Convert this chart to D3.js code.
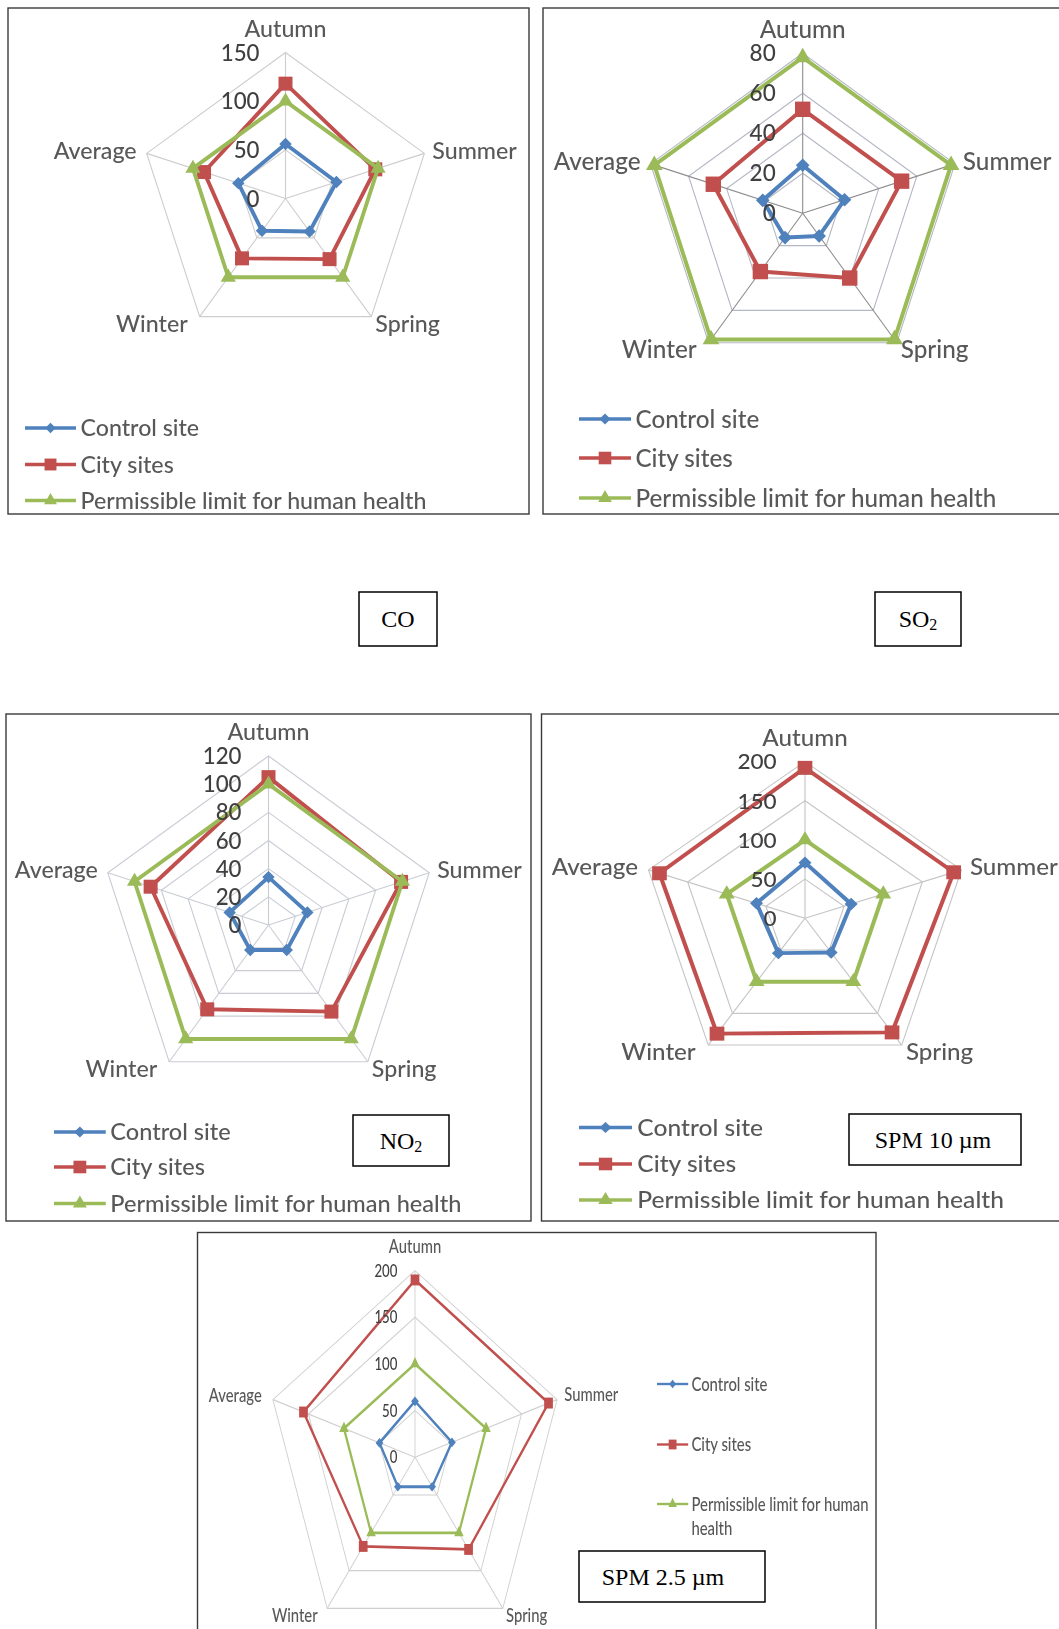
<!DOCTYPE html>
<html>
<head>
<meta charset="utf-8">
<script src="https://cdn.jsdelivr.net/npm/d3@7"></script>
<style>
  html, body { margin: 0; padding: 0; background: #fff; }
  svg { display: block; }
</style>
</head>
<body>
<svg id="fig" width="1059" height="1629"></svg>
<script>
// ---- Data -------------------------------------------------------------
// Radar axes, clockwise from the top
const seasons = ["Autumn", "Summer", "Spring", "Winter", "Average"];
const seriesNames = ["Control site", "City sites", "Permissible limit for human health"];

// CO
const coTicks = [0, 50, 100, 150];
const coControl = [56, 55, 42, 41, 51];
const coCity = [118, 97, 77, 76, 88];
const coLimit = [100, 100, 100, 100, 100];

// SO2
const so2Ticks = [0, 20, 40, 60, 80];
const so2Control = [24, 22, 14, 15, 21];
const so2City = [52, 52, 40, 36, 47];
const so2Limit = [78, 78, 78, 78, 78];

// NO2
const no2Ticks = [0, 20, 40, 60, 80, 100, 120];
const no2Control = [34, 29, 22, 22, 29];
const no2City = [105, 99, 76, 74, 88];
const no2Limit = [100, 100, 100, 100, 100];

// SPM 10 um
const spm10Ticks = [0, 50, 100, 150, 200];
const spm10Control = [71, 59, 54, 55, 62];
const spm10City = [192, 190, 180, 182, 186];
const spm10Limit = [100, 100, 100, 100, 100];

// SPM 2.5 um
const spm25Ticks = [0, 50, 100, 150, 200];
const spm25Control = [60, 52, 39, 39, 50];
const spm25City = [190, 188, 122, 118, 157];
const spm25Limit = [100, 100, 100, 100, 100];

// ---- Layout -----------------------------------------------------------
// Label placement around each vertex (px, before the panel's x scaling)
const placeDefault = [
  { dx: 0, dy: -24, anchor: "middle" },
  { dx: 8, dy: -3, anchor: "start" },
  { dx: 4, dy: 7, anchor: "start" },
  { dx: -12, dy: 7, anchor: "end" },
  { dx: -10, dy: -3, anchor: "end" }
];
const placeSmall = [
  { dx: 0, dy: -24, anchor: "middle" },
  { dx: 9, dy: -5, anchor: "start" },
  { dx: 4, dy: 7, anchor: "start" },
  { dx: -12, dy: 7, anchor: "end" },
  { dx: -14, dy: -4, anchor: "end" }
];

const panels = [
  { // CO
    frame: [8, 8, 521, 506],
    cx: 285.5, cy: 198.5, R: 146, sx: 1.0,
    ticks: coTicks, values: [coControl, coCity, coLimit],
    font: 23.2, tickFont: 22.3, tickDx: 26, lw: 3.9, mk: 1, place: placeDefault,
    grid: "#cdcdcd", spoke: "#cdcdcd",
    legend: { x: 25, rows: [428, 464.5, 500.5], len: 51, gap: 4.5, font: 23.2, sx: 1.0, mk: 0.85 },
    title: { box: [359, 592, 78, 54], parts: [["CO", false]], tx: 398 }
  },
  { // SO2
    frame: [543, 8, 530, 506],
    cx: 802.7, cy: 213.3, R: 160, sx: 1.0,
    ticks: so2Ticks, values: [so2Control, so2City, so2Limit],
    font: 24.3, tickFont: 22.5, tickDx: 27, lw: 4, mk: 1.1, place: placeDefault,
    grid: "#b4b8c4", spoke: "#8c8c8c",
    legend: { x: 579, rows: [419, 458, 498], len: 52, gap: 4.5, font: 24.2, sx: 1.0, mk: 0.9 },
    title: { box: [875, 592, 86, 54], parts: [["SO", false], ["2", true]], tx: 918 }
  },
  { // NO2
    frame: [6, 714, 525, 507],
    cx: 268.5, cy: 925, R: 169, sx: 1.0,
    ticks: no2Ticks, values: [no2Control, no2City, no2Limit],
    font: 23.2, tickFont: 22.3, tickDx: 27, lw: 3.9, mk: 1, place: placeDefault,
    grid: "#c9ccd4", spoke: "#c9ccd4",
    legend: { x: 54, rows: [1132, 1167, 1203.5], len: 51, gap: 4.5, font: 23.2, sx: 1.015, mk: 0.9 },
    title: { box: [353, 1115, 96, 51], parts: [["NO", false], ["2", true]], tx: 401 }
  },
  { // SPM 10
    frame: [541.5, 714, 530, 507],
    cx: 805, cy: 918.3, R: 156.7, sx: 1.05,
    ticks: spm10Ticks, values: [spm10Control, spm10City, spm10Limit],
    font: 23, tickFont: 21.5, tickDx: 27, lw: 3.9, mk: 1, place: placeDefault,
    grid: "#c6c6c6", spoke: "#c6c6c6",
    legend: { x: 579, rows: [1127.5, 1164, 1200], len: 50, gap: 5, font: 23.2, sx: 1.06, mk: 0.9 },
    title: { box: [849, 1114, 172, 51], parts: [["SPM 10 \u00b5m", false]], tx: 933 }
  },
  { // SPM 2.5
    frame: [197.5, 1232.5, 678.5, 420],
    cx: 415, cy: 1457.3, R: 186.7, sx: 0.8,
    ticks: spm25Ticks, values: [spm25Control, spm25City, spm25Limit],
    font: 18.5, tickFont: 16.5, tickDx: 22, lw: 2.8, mk: 0.78, place: placeSmall,
    grid: "#cfcfcf", spoke: "#cfcfcf",
    legend: { x: 657, rows: [1384, 1444.5, 1504], len: 39, gap: 4, font: 18.6, sx: 0.8, mk: 0.7, wrapAt: 3, lineGap: 24 },
    title: { box: [579, 1551, 186, 51], parts: [["SPM 2.5 \u00b5m", false]], tx: 663 }
  }
];

const colors = ["#4F81BD", "#C0504D", "#9BBB59"];
const shapes = ["diamond", "square", "triangle"];
const labelFont = "Lato, 'Open Sans', 'DejaVu Sans', sans-serif";
const serifFont = "'Liberation Serif', 'DejaVu Serif', serif";

// ---- Drawing ----------------------------------------------------------
const svg = d3.select("#fig");
svg.append("rect").attr("width", 1059).attr("height", 1629).attr("fill", "#fff");

const defs = svg.append("defs");
defs.append("filter").attr("id", "soft")
  .attr("x", "-5%").attr("y", "-5%").attr("width", "110%").attr("height", "110%")
  .append("feGaussianBlur").attr("stdDeviation", 0.55);

function markerPath(shape, s) {
  if (shape === "diamond") return `M0,${-s}L${s},0L0,${s}L${-s},0Z`;
  if (shape === "square") return `M${-s},${-s}H${s}V${s}H${-s}Z`;
  const h = s * Math.sqrt(3);
  return `M0,${-2 * h / 3}L${s},${h / 3}L${-s},${h / 3}Z`;
}
const markerBase = [6.2, 7, 7.6];

const angle = d3.scalePoint().domain(seasons).range([0, 2 * Math.PI * 4 / 5]);

panels.forEach(p => {
  // panel frame
  svg.append("rect")
    .attr("x", p.frame[0]).attr("y", p.frame[1])
    .attr("width", p.frame[2]).attr("height", p.frame[3])
    .attr("fill", "none").attr("stroke", "#3a3a3a").attr("stroke-width", 1.4);

  const soft = svg.append("g").attr("filter", "url(#soft)");
  const chart = soft.append("g")
    .attr("transform", `translate(${p.cx},${p.cy}) scale(${p.sx},1)`);

  const maxV = d3.max(p.ticks);
  const r = d3.scaleLinear().domain([0, maxV]).range([0, p.R]);

  // concentric gridlines
  const ringLine = d3.lineRadial().curve(d3.curveLinearClosed)
    .angle(s => angle(s));
  p.ticks.filter(t => t > 0).forEach(t => {
    chart.append("path")
      .attr("d", ringLine.radius(r(t))(seasons))
      .attr("fill", "none").attr("stroke", p.grid).attr("stroke-width", 1.1);
  });
  // spokes
  seasons.forEach(s => {
    const [x, y] = d3.pointRadial(angle(s), r(maxV));
    chart.append("line").attr("x1", 0).attr("y1", 0).attr("x2", x).attr("y2", y)
      .attr("stroke", p.spoke).attr("stroke-width", 1.1);
  });

  // series
  const seriesLine = d3.lineRadial().curve(d3.curveLinearClosed)
    .angle((d, i) => angle(seasons[i])).radius(d => r(d));
  p.values.forEach((vals, k) => {
    chart.append("path").attr("d", seriesLine(vals))
      .attr("fill", "none").attr("stroke", colors[k])
      .attr("stroke-width", p.lw).attr("stroke-linejoin", "round");
    vals.forEach((v, i) => {
      const [x, y] = d3.pointRadial(angle(seasons[i]), r(v));
      chart.append("path")
        .attr("d", markerPath(shapes[k], markerBase[k] * p.mk))
        .attr("transform", `translate(${x},${y})`)
        .attr("fill", colors[k]);
    });
  });

  // value axis labels
  p.ticks.forEach(t => {
    chart.append("text")
      .attr("x", -p.tickDx).attr("y", -r(t)).attr("dy", "0.36em")
      .attr("text-anchor", "end")
      .attr("font-family", labelFont).attr("font-size", p.tickFont)
      .attr("font-weight", 500)
      .attr("fill", "#3f3f3f")
      .text(t);
  });

  // category labels
  seasons.forEach((s, i) => {
    const [x, y] = d3.pointRadial(angle(s), r(maxV));
    const lp = p.place[i];
    chart.append("text")
      .attr("x", x + lp.dx).attr("y", y + lp.dy).attr("dy", "0.36em")
      .attr("text-anchor", lp.anchor)
      .attr("font-family", labelFont).attr("font-size", p.font)
      .attr("font-weight", 500)
      .attr("fill", "#595959")
      .text(s);
  });

  // legend
  const L = p.legend;
  const lg = soft.append("g").attr("transform", `translate(${L.x},0) scale(${L.sx},1)`);
  seriesNames.forEach((name, k) => {
    const y = L.rows[k];
    lg.append("line").attr("x1", 0).attr("x2", L.len).attr("y1", y).attr("y2", y)
      .attr("stroke", colors[k]).attr("stroke-width", p.lw * 0.85);
    lg.append("path")
      .attr("d", markerPath(shapes[k], markerBase[k] * L.mk))
      .attr("transform", `translate(${L.len / 2},${y})`)
      .attr("fill", colors[k]);
    const txt = lg.append("text")
      .attr("x", L.len + L.gap).attr("y", y).attr("dy", "0.36em")
      .attr("font-family", labelFont).attr("font-size", L.font)
      .attr("font-weight", 500)
      .attr("fill", "#595959");
    if (L.wrapAt && name.split(" ").length > L.wrapAt + 1) {
      const words = name.split(" ");
      txt.append("tspan").text(words.slice(0, words.length - 1).join(" "));
      txt.append("tspan").attr("x", L.len + L.gap).attr("dy", L.lineGap)
        .text(words[words.length - 1]);
    } else {
      txt.text(name);
    }
  });

  // pollutant name box
  const T = p.title;
  svg.append("rect")
    .attr("x", T.box[0]).attr("y", T.box[1]).attr("width", T.box[2]).attr("height", T.box[3])
    .attr("fill", "#fff").attr("stroke", "#000").attr("stroke-width", 1.5);
  const tt = svg.append("text")
    .attr("x", T.tx).attr("y", T.box[1] + T.box[3] / 2).attr("dy", "0.34em")
    .attr("text-anchor", "middle")
    .attr("font-family", serifFont).attr("font-size", 24).attr("fill", "#000");
  T.parts.forEach(([str, sub]) => {
    const ts = tt.append("tspan").text(str);
    if (sub) ts.attr("font-size", 16).attr("dy", 3);
  });
});
</script>
</body>
</html>
